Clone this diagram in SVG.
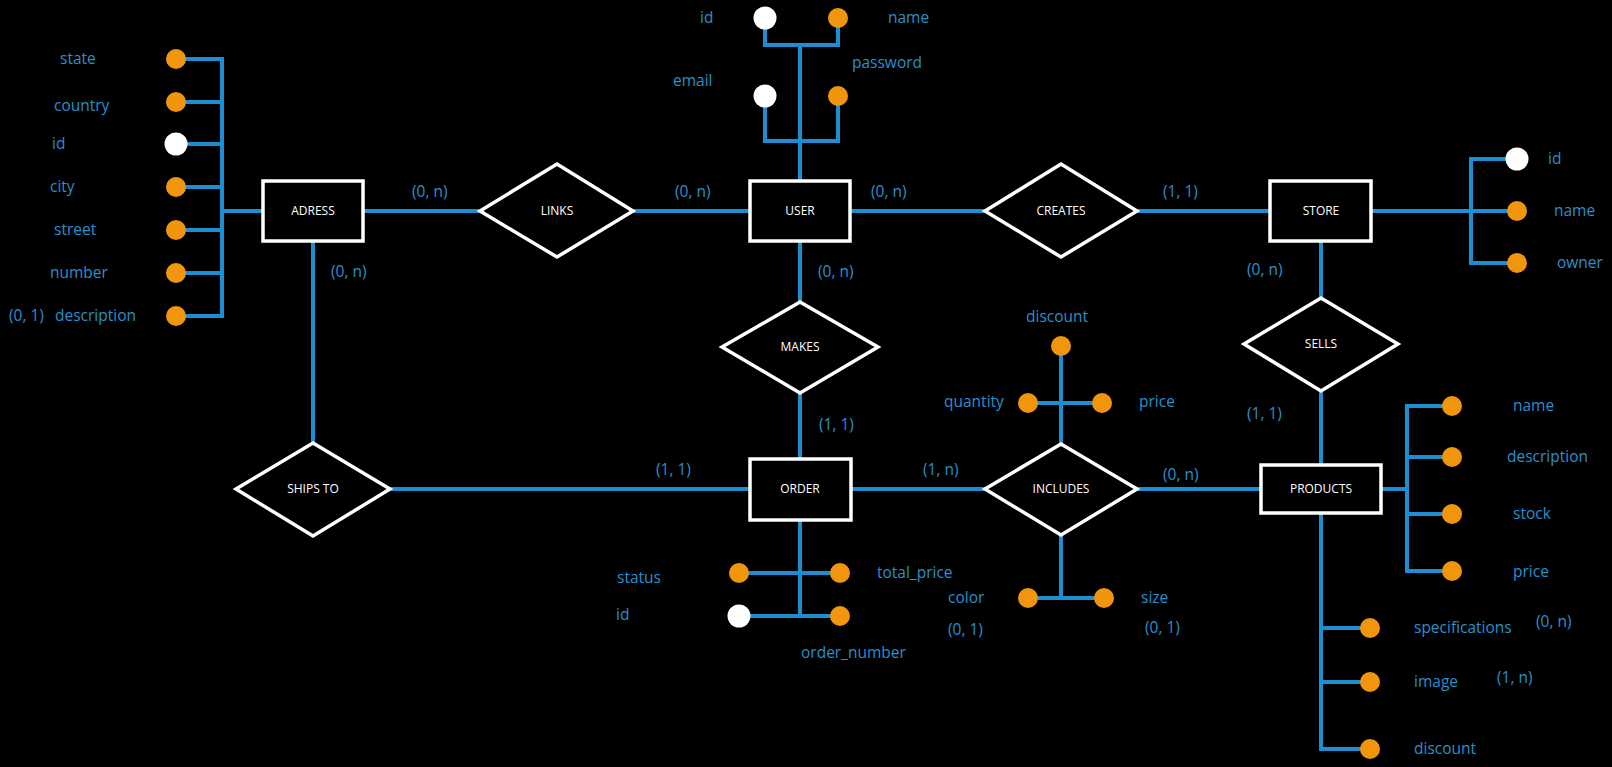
<svg xmlns="http://www.w3.org/2000/svg" width="1612" height="767" viewBox="0 0 1612 767">
<style>
.bg{fill:#000}
.ln{fill:none;stroke:#1b8fd2;stroke-width:4}
.ent{fill:#000;stroke:#fff;stroke-width:3.5}
.rel{fill:#000;stroke:#fff;stroke-width:3.5;stroke-linejoin:miter}
.et{font-family:"Open Sans","Noto Sans",sans-serif;font-size:12px;fill:#fff;text-anchor:middle}
.lb{font-family:"Open Sans","Noto Sans",sans-serif;font-size:15.5px;fill:#2a8fcb}
.a{fill:#f0950c}
.k{fill:#fff}
</style>
<rect class="bg" x="0" y="0" width="1612" height="767"/>
<g id="connectors">
<path class="ln" d="M176,59 H222 V316 H176 M176,102 H222 M176,144 H222 M176,187 H222 M176,230 H222 M176,273 H222 M222,211 H263"/>
<path class="ln" d="M363,211 H481 M633,211 H750 M850,211 H985 M1137,211 H1270"/>
<path class="ln" d="M765,18 V45 H838 V18 M800,45 V181 M765,96 V141 H838 V96"/>
<path class="ln" d="M1371,211 H1517 M1517,159 H1471 V263 H1517"/>
<path class="ln" d="M1321,241 V298 M1321,391 V465"/>
<path class="ln" d="M1381,489 H1407 M1452,406 H1407 V571 H1452 M1407,457 H1452 M1407,514 H1452"/>
<path class="ln" d="M1321,513 V749 H1370 M1321,628 H1370 M1321,682 H1370"/>
<path class="ln" d="M1137,489 H1261 M851,489 H985 M389,489 H750"/>
<path class="ln" d="M1061,346 V444 M1028,403 H1102 M1061,535 V598 M1028,598 H1104"/>
<path class="ln" d="M313,241 V443 M800,241 V302 M800,393 V459"/>
<path class="ln" d="M800,520 V616 M739,573 H840 M739,616 H840"/>
</g>
<g id="adress"><rect class="ent" x="263" y="181" width="100" height="60"/><text class="et" x="313" y="215">ADRESS</text></g>
<g id="user"><rect class="ent" x="750" y="181" width="100" height="60"/><text class="et" x="800" y="215">USER</text></g>
<g id="store"><rect class="ent" x="1270" y="181" width="101" height="60"/><text class="et" x="1321" y="215">STORE</text></g>
<g id="order"><rect class="ent" x="750" y="459" width="101" height="61"/><text class="et" x="800" y="493">ORDER</text></g>
<g id="products"><rect class="ent" x="1261" y="465" width="120" height="48"/><text class="et" x="1321" y="493">PRODUCTS</text></g>
<g id="links"><polygon class="rel" points="480,211 557,164 633,211 557,257"/><text class="et" x="557" y="215">LINKS</text></g>
<g id="creates"><polygon class="rel" points="985,211 1061,164 1137,211 1061,257"/><text class="et" x="1061" y="215">CREATES</text></g>
<g id="makes"><polygon class="rel" points="722,347 800,302 878,347 800,393"/><text class="et" x="800" y="351">MAKES</text></g>
<g id="sells"><polygon class="rel" points="1244,344 1321,298 1398,344 1321,391"/><text class="et" x="1321" y="348">SELLS</text></g>
<g id="ships-to"><polygon class="rel" points="236,489 313,443 390,489 313,536"/><text class="et" x="313" y="493">SHIPS TO</text></g>
<g id="includes"><polygon class="rel" points="985,489 1061,444 1137,489 1061,535"/><text class="et" x="1061" y="493">INCLUDES</text></g>
<g id="adress-attrs">
<circle class="a" cx="176" cy="59" r="10"/><text class="lb" x="60" y="64">state</text>
<circle class="a" cx="176" cy="102" r="10"/><text class="lb" x="54" y="111">country</text>
<circle class="k" cx="176" cy="144" r="11.5"/><text class="lb" x="52" y="149">id</text>
<circle class="a" cx="176" cy="187" r="10"/><text class="lb" x="50" y="192">city</text>
<circle class="a" cx="176" cy="230" r="10"/><text class="lb" x="54" y="235">street</text>
<circle class="a" cx="176" cy="273" r="10"/><text class="lb" x="50" y="278">number</text>
<circle class="a" cx="176" cy="316" r="10"/><text class="lb" x="55" y="321">description</text>
<text class="lb" x="9" y="321">(0, 1)</text>
</g>
<g id="user-attrs">
<circle class="k" cx="765" cy="18" r="11.5"/><text class="lb" x="700" y="23">id</text>
<circle class="a" cx="838" cy="18" r="10"/><text class="lb" x="888" y="23">name</text>
<circle class="k" cx="765" cy="96" r="11.5"/><text class="lb" x="673" y="86">email</text>
<circle class="a" cx="838" cy="96" r="10"/><text class="lb" x="852" y="68">password</text>
</g>
<g id="store-attrs">
<circle class="k" cx="1517" cy="159" r="11.5"/><text class="lb" x="1548" y="164">id</text>
<circle class="a" cx="1517" cy="211" r="10"/><text class="lb" x="1554" y="216">name</text>
<circle class="a" cx="1517" cy="263" r="10"/><text class="lb" x="1557" y="268">owner</text>
</g>
<g id="products-attrs">
<circle class="a" cx="1452" cy="406" r="10"/><text class="lb" x="1513" y="411">name</text>
<circle class="a" cx="1452" cy="457" r="10"/><text class="lb" x="1507" y="462">description</text>
<circle class="a" cx="1452" cy="514" r="10"/><text class="lb" x="1513" y="519">stock</text>
<circle class="a" cx="1452" cy="571" r="10"/><text class="lb" x="1513" y="577">price</text>
<circle class="a" cx="1370" cy="628" r="10"/><text class="lb" x="1414" y="633">specifications</text>
<text class="lb" x="1536" y="627">(0, n)</text>
<circle class="a" cx="1370" cy="682" r="10"/><text class="lb" x="1414" y="687">image</text>
<text class="lb" x="1497" y="683">(1, n)</text>
<circle class="a" cx="1370" cy="749" r="10"/><text class="lb" x="1414" y="754">discount</text>
</g>
<g id="includes-attrs">
<circle class="a" cx="1061" cy="346" r="10"/><text class="lb" x="1026" y="322">discount</text>
<circle class="a" cx="1028" cy="403" r="10"/><text class="lb" x="944" y="407">quantity</text>
<circle class="a" cx="1102" cy="403" r="10"/><text class="lb" x="1139" y="407">price</text>
<circle class="a" cx="1028" cy="598" r="10"/><text class="lb" x="948" y="603">color</text>
<text class="lb" x="948" y="635">(0, 1)</text>
<circle class="a" cx="1104" cy="598" r="10"/><text class="lb" x="1141" y="603">size</text>
<text class="lb" x="1145" y="633">(0, 1)</text>
</g>
<g id="order-attrs">
<circle class="a" cx="739" cy="573" r="10"/><text class="lb" x="617" y="583">status</text>
<circle class="a" cx="840" cy="573" r="10"/><text class="lb" x="877" y="578">total_price</text>
<circle class="k" cx="739" cy="616" r="11.5"/><text class="lb" x="616" y="620">id</text>
<circle class="a" cx="840" cy="616" r="10"/><text class="lb" x="801" y="658">order_number</text>
</g>
<g id="cardinalities">
<text class="lb" x="412" y="197">(0, n)</text>
<text class="lb" x="675" y="197">(0, n)</text>
<text class="lb" x="871" y="197">(0, n)</text>
<text class="lb" x="1163" y="197">(1, 1)</text>
<text class="lb" x="331" y="277">(0, n)</text>
<text class="lb" x="818" y="277">(0, n)</text>
<text class="lb" x="1247" y="275">(0, n)</text>
<text class="lb" x="819" y="430">(1, 1)</text>
<text class="lb" x="1247" y="419">(1, 1)</text>
<text class="lb" x="656" y="475">(1, 1)</text>
<text class="lb" x="923" y="475">(1, n)</text>
<text class="lb" x="1163" y="480">(0, n)</text>
</g>
</svg>
